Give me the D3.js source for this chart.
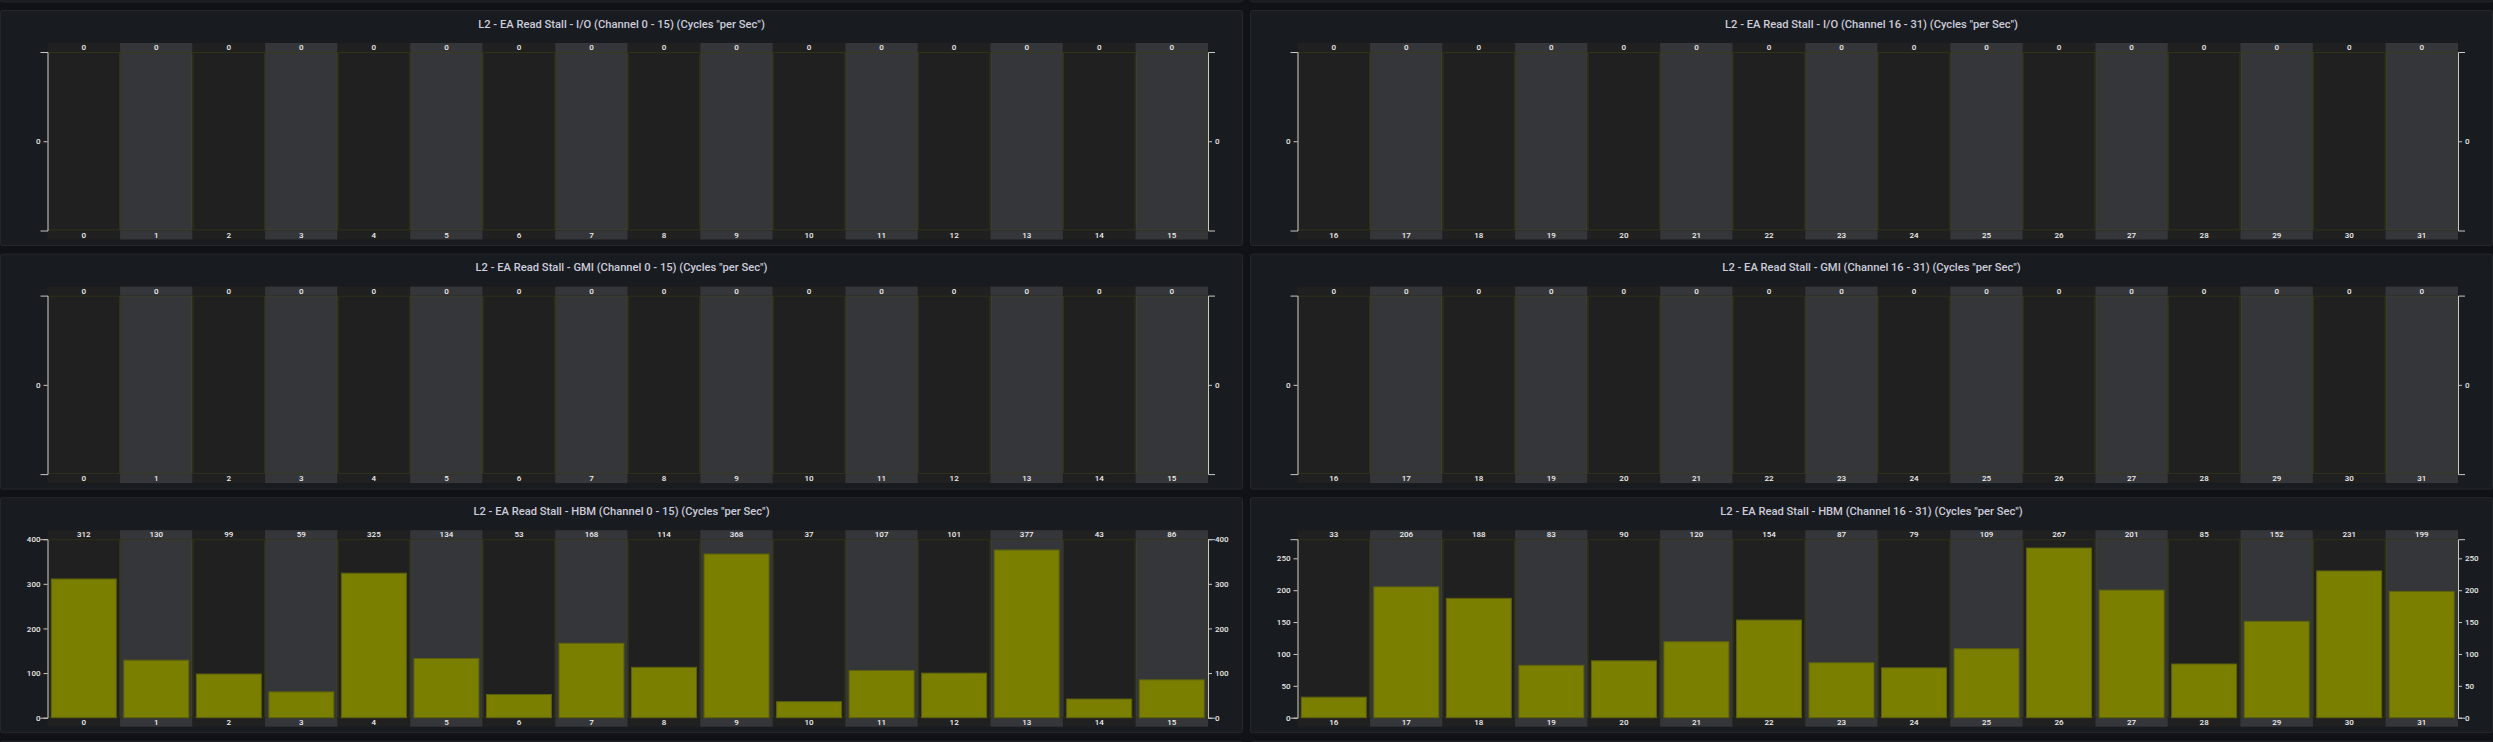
<!DOCTYPE html>
<html><head><meta charset="utf-8">
<script src="https://cdn.jsdelivr.net/npm/d3@7"></script>
<style>html,body{margin:0;padding:0;background:#111217;overflow:hidden}</style>
</head><body><svg id="c" width="2493" height="742"></svg>
<script>
// ---- data ----
const categoriesLeft = ["0","1","2","3","4","5","6","7","8","9","10","11","12","13","14","15"];
const categoriesRight = ["16","17","18","19","20","21","22","23","24","25","26","27","28","29","30","31"];
const ioLeft   = [0,0,0,0,0,0,0,0,0,0,0,0,0,0,0,0];
const ioRight  = [0,0,0,0,0,0,0,0,0,0,0,0,0,0,0,0];
const gmiLeft  = [0,0,0,0,0,0,0,0,0,0,0,0,0,0,0,0];
const gmiRight = [0,0,0,0,0,0,0,0,0,0,0,0,0,0,0,0];
const hbmLeft  = [312,130,99,59,325,134,53,168,114,368,37,107,101,377,43,86];
const hbmRight = [33,206,188,83,90,120,154,87,79,109,267,201,85,152,231,199];
const yMaxIo = 0, yMaxGmi = 0, yMaxHbmLeft = 400, yMaxHbmRight = 280;
const titles = [
  ['L2 - EA Read Stall - I/O (Channel 0 - 15) (Cycles "per Sec")', 'L2 - EA Read Stall - I/O (Channel 16 - 31) (Cycles "per Sec")'],
  ['L2 - EA Read Stall - GMI (Channel 0 - 15) (Cycles "per Sec")', 'L2 - EA Read Stall - GMI (Channel 16 - 31) (Cycles "per Sec")'],
  ['L2 - EA Read Stall - HBM (Channel 0 - 15) (Cycles "per Sec")', 'L2 - EA Read Stall - HBM (Channel 16 - 31) (Cycles "per Sec")']
];

const panels = [
  {row:0,col:0,title:titles[0][0],cats:categoriesLeft,vals:ioLeft,max:yMaxIo},
  {row:0,col:1,title:titles[0][1],cats:categoriesRight,vals:ioRight,max:yMaxIo},
  {row:1,col:0,title:titles[1][0],cats:categoriesLeft,vals:gmiLeft,max:yMaxGmi},
  {row:1,col:1,title:titles[1][1],cats:categoriesRight,vals:gmiRight,max:yMaxGmi},
  {row:2,col:0,title:titles[2][0],cats:categoriesLeft,vals:hbmLeft,max:yMaxHbmLeft},
  {row:2,col:1,title:titles[2][1],cats:categoriesRight,vals:hbmRight,max:yMaxHbmRight}
];

// ---- layout ----
const svg = d3.select("#c");
const panelW = 1243, panelH = 236, period = 243.6;
const colX = [0, 1250];
const rowY = r => 10 + r*period;
const FONT = "Roboto, 'Noto Sans', sans-serif";

svg.append("rect").attr("width",2493).attr("height",742).attr("fill","#111217");

// ghost panels above and below
[-1, 3].forEach(r => colX.forEach(x => {
  svg.append("rect").attr("x", x+0.5).attr("y", rowY(r)+0.5).attr("width", panelW-1).attr("height", panelH-1)
    .attr("rx",2).attr("fill","#181b1f").attr("stroke","#24272c");
}));

// title font size so that the first title spans ~287px as in the reference
const probe = svg.append("text").attr("font-family",FONT).attr("font-weight",500).attr("font-size","11px").text(titles[0][0]);
const probeW = probe.node().getComputedTextLength();
probe.remove();
const titleSize = Math.max(9, Math.min(14, 11 * 287 / (probeW || 287)));

panels.forEach(p => {
  const px = colX[p.col], py = rowY(p.row);
  const g = svg.append("g");
  g.append("rect").attr("x", px+0.5).attr("y", py+0.5).attr("width", panelW-1).attr("height", panelH-1)
    .attr("rx",2).attr("fill","#181b1f").attr("stroke","#24272c");
  g.append("text").attr("x", px + panelW/2).attr("y", py + 14).attr("text-anchor","middle")
    .attr("dominant-baseline","central").attr("fill","#ccccdc").attr("font-family",FONT)
    .attr("font-weight",500).attr("font-size", titleSize + "px").text(p.title);

  const left = px + 47.5, right = px + 1208, top = py + 42, bottom = py + 220.5;
  const xBand = d3.scaleBand().domain(p.cats).range([left, right]).padding(0);
  const xBar = d3.scaleBand().domain(p.cats).range([left, right]).paddingInner(0.09).paddingOuter(0.045);
  const y = d3.scaleLinear().domain([0, p.max]).range([bottom, top]);
  const data = p.cats.map((c,i) => ({c, v:p.vals[i], i}));
  const bandFill = d => d.i % 2 ? "#35363a" : "#202020";

  // label bands
  g.selectAll(null).data(data).join("rect")
    .attr("x", d => xBand(d.c)).attr("y", top-9).attr("width", xBand.bandwidth()).attr("height", 9)
    .attr("fill", bandFill);
  g.selectAll(null).data(data).join("rect")
    .attr("x", d => xBand(d.c)).attr("y", bottom).attr("width", xBand.bandwidth()).attr("height", 9)
    .attr("fill", bandFill);
  // plot bands
  g.selectAll(null).data(data).join("rect")
    .attr("x", d => xBand(d.c)+0.5).attr("y", top+0.5).attr("width", xBand.bandwidth()-1).attr("height", bottom-top-1)
    .attr("fill", bandFill).attr("stroke","rgba(122,127,0,0.22)").attr("stroke-width",1);

  // bars
  g.selectAll(null).data(data.filter(d => d.v > 0)).join("rect")
    .attr("x", d => xBar(d.c)+0.5).attr("y", d => y(d.v)+0.5)
    .attr("width", xBar.bandwidth()-1).attr("height", d => y(0) - y(d.v) - 0.5)
    .attr("fill","#7a7f00").attr("stroke","#5c600c").attr("stroke-width",1);

  // value labels
  g.selectAll(null).data(data).join("text")
    .attr("x", d => xBand(d.c) + xBand.bandwidth()/2).attr("y", top-4.5)
    .attr("text-anchor","middle").attr("dominant-baseline","central")
    .attr("fill","#f0f0f0").attr("font-family",FONT).attr("font-weight",500).attr("font-size","8px")
    .text(d => d.v);
  // category labels
  g.selectAll(null).data(data).join("text")
    .attr("x", d => xBand(d.c) + xBand.bandwidth()/2).attr("y", bottom+4.5)
    .attr("text-anchor","middle").attr("dominant-baseline","central")
    .attr("fill","#f0f0f0").attr("font-family",FONT).attr("font-weight",500).attr("font-size","8px")
    .text(d => d.c);

  // axes
  const styleAxis = a => {
    a.select(".domain").attr("stroke","#c8c8c8");
    a.selectAll(".tick line").attr("stroke","#c8c8c8");
    a.selectAll(".tick text").attr("fill","#e8e8e8").attr("font-family",FONT).attr("font-weight",500).attr("font-size","8px");
  };
  const ya = g.append("g").attr("transform",`translate(${left},0)`)
    .call(d3.axisLeft(y).ticks(5).tickSizeInner(4).tickSizeOuter(7).tickPadding(3));
  styleAxis(ya);
  const yb = g.append("g").attr("transform",`translate(${right},0)`)
    .call(d3.axisRight(y).ticks(5).tickSizeInner(4).tickSizeOuter(7).tickPadding(3));
  styleAxis(yb);
});
</script></body></html>
